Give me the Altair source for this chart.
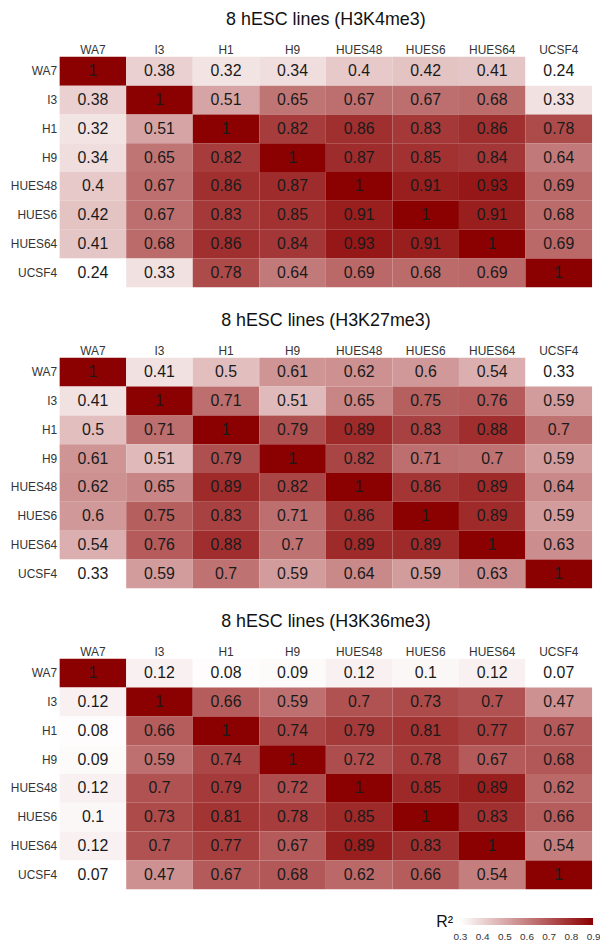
import altair as alt
import pandas as pd

FONT = "Liberation Sans"

names = ["WA7", "I3", "H1", "H9", "HUES48", "HUES6", "HUES64", "UCSF4"]

titles = ["8 hESC lines (H3K4me3)", "8 hESC lines (H3K27me3)", "8 hESC lines (H3K36me3)"]

k4me3 = [
    [1, 0.38, 0.32, 0.34, 0.4, 0.42, 0.41, 0.24],
    [0.38, 1, 0.51, 0.65, 0.67, 0.67, 0.68, 0.33],
    [0.32, 0.51, 1, 0.82, 0.86, 0.83, 0.86, 0.78],
    [0.34, 0.65, 0.82, 1, 0.87, 0.85, 0.84, 0.64],
    [0.4, 0.67, 0.86, 0.87, 1, 0.91, 0.93, 0.69],
    [0.42, 0.67, 0.83, 0.85, 0.91, 1, 0.91, 0.68],
    [0.41, 0.68, 0.86, 0.84, 0.93, 0.91, 1, 0.69],
    [0.24, 0.33, 0.78, 0.64, 0.69, 0.68, 0.69, 1],
]

k27me3 = [
    [1, 0.41, 0.5, 0.61, 0.62, 0.6, 0.54, 0.33],
    [0.41, 1, 0.71, 0.51, 0.65, 0.75, 0.76, 0.59],
    [0.5, 0.71, 1, 0.79, 0.89, 0.83, 0.88, 0.7],
    [0.61, 0.51, 0.79, 1, 0.82, 0.71, 0.7, 0.59],
    [0.62, 0.65, 0.89, 0.82, 1, 0.86, 0.89, 0.64],
    [0.6, 0.75, 0.83, 0.71, 0.86, 1, 0.89, 0.59],
    [0.54, 0.76, 0.88, 0.7, 0.89, 0.89, 1, 0.63],
    [0.33, 0.59, 0.7, 0.59, 0.64, 0.59, 0.63, 1],
]

k36me3 = [
    [1, 0.12, 0.08, 0.09, 0.12, 0.1, 0.12, 0.07],
    [0.12, 1, 0.66, 0.59, 0.7, 0.73, 0.7, 0.47],
    [0.08, 0.66, 1, 0.74, 0.79, 0.81, 0.77, 0.67],
    [0.09, 0.59, 0.74, 1, 0.72, 0.78, 0.67, 0.68],
    [0.12, 0.7, 0.79, 0.72, 1, 0.85, 0.89, 0.62],
    [0.1, 0.73, 0.81, 0.78, 0.85, 1, 0.83, 0.66],
    [0.12, 0.7, 0.77, 0.67, 0.89, 0.83, 1, 0.54],
    [0.07, 0.47, 0.67, 0.68, 0.62, 0.66, 0.54, 1],
]

legend_breaks = [0.3, 0.4, 0.5, 0.6, 0.7, 0.8, 0.9]


def panel(mat, title):
    rows = []
    for i, r in enumerate(names):
        for j, c in enumerate(names):
            v = mat[i][j]
            rows.append({"row": r, "col": c, "value": v, "label": f"{v:g}"})
    df = pd.DataFrame(rows)
    vmin = min(min(r) for r in mat)
    base = alt.Chart(df).encode(
        x=alt.X("col:N", sort=names,
                scale=alt.Scale(paddingInner=0, paddingOuter=0),
                axis=alt.Axis(orient="top", title=None, labelAngle=0, ticks=False,
                              tickSize=0, domain=False, labelPadding=0,
                              labelFontSize=12, labelColor="#333333", labelFont=FONT)),
        y=alt.Y("row:N", sort=names,
                scale=alt.Scale(paddingInner=0, paddingOuter=0),
                axis=alt.Axis(title=None, ticks=False, tickSize=0, domain=False,
                              labelPadding=3, labelFontSize=12, labelColor="#333333",
                              labelFont=FONT, minExtent=52)),
    )
    rect = base.mark_rect().encode(
        color=alt.Color("value:Q",
                        scale=alt.Scale(domain=[vmin, 1], range=["#ffffff", "#8b0000"],
                                        interpolate="rgb"),
                        legend=None)
    )
    text = base.mark_text(fontSize=16, font=FONT, color="#1a1a1a").encode(text="label:N")
    return alt.layer(rect, text).properties(
        width=536, height=232,
        title=alt.TitleParams(title, fontSize=18, fontWeight="normal", font=FONT,
                              color="#111111", anchor="middle", offset=15),
    )


p1 = panel(k4me3, titles[0])
p2 = panel(k27me3, titles[1])
p3 = panel(k36me3, titles[2])

panels = alt.vconcat(p1, p2, p3, spacing=25).resolve_scale(
    color="independent", x="independent", y="independent")

leg_df = pd.DataFrame({"lo": [legend_breaks[0]], "hi": [legend_breaks[-1]]})
grad = alt.Gradient(
    gradient="linear",
    stops=[alt.GradientStop(color="#ffffff", offset=0),
           alt.GradientStop(color="#8b0000", offset=1)],
    x1=0, x2=1, y1=0, y2=0,
)
leg_bar = alt.Chart(leg_df).mark_rect(fill=grad).encode(
    x=alt.X("lo:Q",
            scale=alt.Scale(domain=[legend_breaks[0], legend_breaks[-1]],
                            range=[403, 537], nice=False, zero=False),
            axis=alt.Axis(values=legend_breaks, format=".1f", title=None, ticks=False,
                          tickSize=0, domain=False, grid=False, labelPadding=7,
                          labelFlush=False, labelOverlap=False,
                          labelFontSize=10, labelColor="#333333", labelFont=FONT)),
    x2="hi:Q",
)
leg_title = alt.Chart(leg_df).mark_text(
    text="R²", align="right", baseline="middle", fontSize=16, font=FONT, color="#111111"
).encode(x=alt.value(396), y=alt.value(4))
legend = alt.layer(leg_bar, leg_title).properties(width=540, height=7)

chart = alt.vconcat(panels, legend, spacing=25).properties(
    background="white", padding=0).configure_view(stroke=None)

chart.save("out.html", embed_options={"renderer": "svg", "actions": False})
